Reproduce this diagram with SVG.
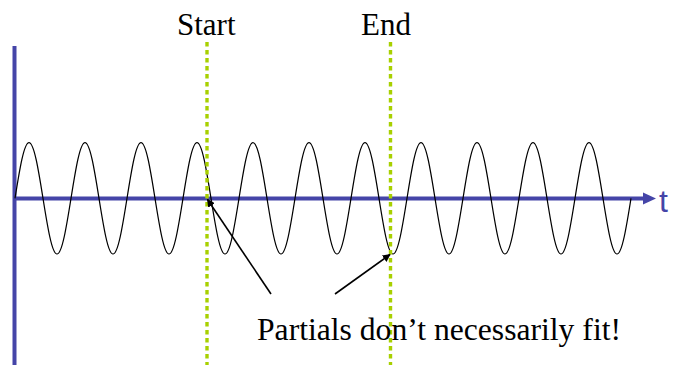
<svg xmlns="http://www.w3.org/2000/svg" width="673" height="365" viewBox="0 0 673 365">
  <defs>
    <style>
      .lbl { font-family: "Liberation Serif", "Times New Roman", serif; font-size: 31px; fill: #000; }
      .axis { stroke: #4545a8; stroke-width: 4; fill: none; }
      .guide { stroke: #a8d000; stroke-width: 3.4; stroke-dasharray: 4.5 3.5; fill: none; }
      .wave { stroke: #000; stroke-width: 1.2; fill: none; }
      .conn { stroke: #000; stroke-width: 1.6; fill: none; }
    </style>
    <marker id="ah" viewBox="0 0 10 10" refX="9" refY="5" markerWidth="8" markerHeight="8" markerUnits="userSpaceOnUse" orient="auto">
      <path d="M0,0 L10,5 L0,10 z" fill="#000"/>
    </marker>
  </defs>
  <rect width="673" height="365" fill="#fff"/>

  <g id="axes">
    <line class="axis" x1="14.5" y1="46" x2="14.5" y2="365"/>
    <line class="axis" x1="13" y1="198.5" x2="645" y2="198.5"/>
    <polygon points="643,192.5 656,198.5 643,204.5" fill="#4545a8"/>
    <text x="659" y="212" font-family="Liberation Sans, Arial, sans-serif" font-size="32" fill="#4545a8">t</text>
  </g>

  <g id="wave">
    <path class="wave" d="M15,198.3 c4.566,-28.53 8.934,-55.7 14,-55.7 s9.434,27.17 14,55.7 s8.934,55.7 14,55.7 s9.434,-27.17 14,-55.7
      s8.934,-55.7 14,-55.7 s9.434,27.17 14,55.7 s8.934,55.7 14,55.7 s9.434,-27.17 14,-55.7
      s8.934,-55.7 14,-55.7 s9.434,27.17 14,55.7 s8.934,55.7 14,55.7 s9.434,-27.17 14,-55.7
      s8.934,-55.7 14,-55.7 s9.434,27.17 14,55.7 s8.934,55.7 14,55.7 s9.434,-27.17 14,-55.7
      s8.934,-55.7 14,-55.7 s9.434,27.17 14,55.7 s8.934,55.7 14,55.7 s9.434,-27.17 14,-55.7
      s8.934,-55.7 14,-55.7 s9.434,27.17 14,55.7 s8.934,55.7 14,55.7 s9.434,-27.17 14,-55.7
      s8.934,-55.7 14,-55.7 s9.434,27.17 14,55.7 s8.934,55.7 14,55.7 s9.434,-27.17 14,-55.7
      s8.934,-55.7 14,-55.7 s9.434,27.17 14,55.7 s8.934,55.7 14,55.7 s9.434,-27.17 14,-55.7
      s8.934,-55.7 14,-55.7 s9.434,27.17 14,55.7 s8.934,55.7 14,55.7 s9.434,-27.17 14,-55.7
      s8.934,-55.7 14,-55.7 s9.434,27.17 14,55.7 s8.934,55.7 14,55.7 s9.434,-27.17 14,-55.7
      s8.934,-55.7 14,-55.7 s9.434,27.17 14,55.7 s8.934,55.7 14,55.7 s9.434,-27.17 14,-55.7"/>
  </g>

  <g id="start">
    <line class="guide" x1="207" y1="42" x2="207" y2="365"/>
    <text class="lbl" x="177" y="35">Start</text>
  </g>

  <g id="end">
    <line class="guide" x1="390.5" y1="42" x2="390.5" y2="365"/>
    <text class="lbl" x="361" y="35">End</text>
  </g>

  <g id="note">
    <text class="lbl" x="257" y="339.5" textLength="364" lengthAdjust="spacingAndGlyphs">Partials don’t necessarily fit!</text>
  </g>

  <g id="connectors">
    <line class="conn" x1="271" y1="294" x2="207.5" y2="199.5" marker-end="url(#ah)"/>
    <line class="conn" x1="335" y1="294" x2="390" y2="254.5" marker-end="url(#ah)"/>
  </g>
</svg>
